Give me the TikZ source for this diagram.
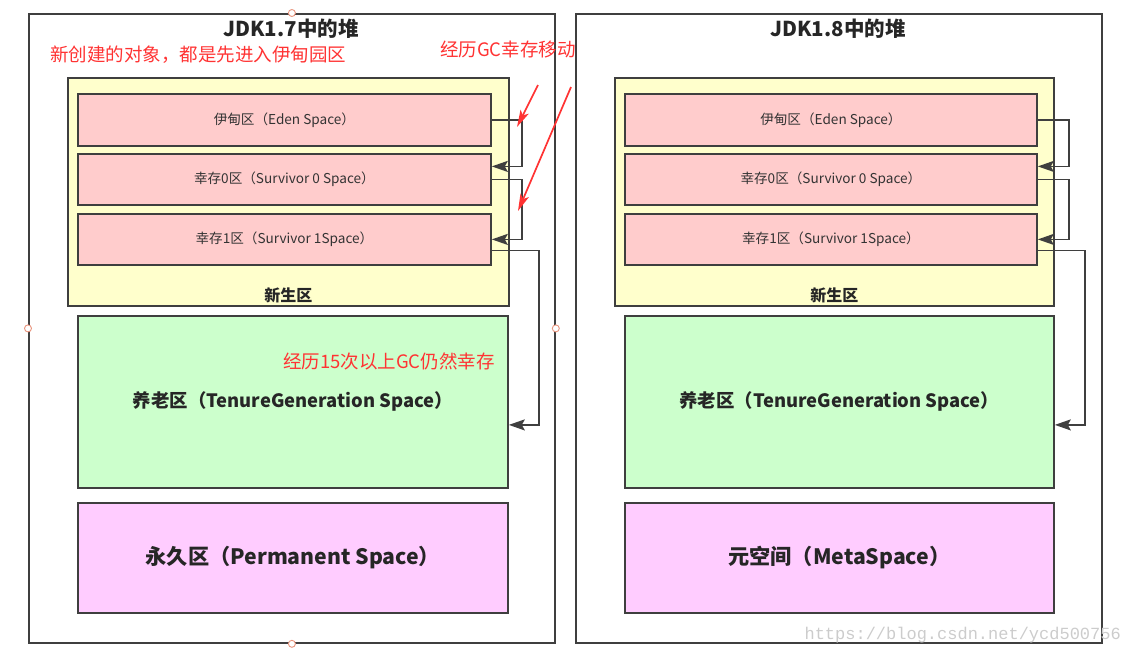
\documentclass[tikz,border=0pt]{standalone}
\usepackage{fontspec}
\setmainfont{Noto Sans CJK SC}
\newfontfamily\wmfont{Liberation Mono}
\usetikzlibrary{arrows.meta, positioning}

\definecolor{edge}{HTML}{3F3F3F}
\definecolor{youngfill}{HTML}{FFFFCC}
\definecolor{edenfill}{HTML}{FFCCCC}
\definecolor{oldfill}{HTML}{CCFFCC}
\definecolor{permfill}{HTML}{FFCCFF}
\definecolor{notered}{HTML}{FF3333}

\begin{document}
\begin{tikzpicture}[
      x=1pt, y=-1pt,
      heap/.style={draw=edge, line width=1.8pt, anchor=north west, inner sep=0pt, minimum width=526, minimum height=629},
      zone/.style={draw=edge, line width=1.8pt, anchor=north west, inner sep=0pt},
      space/.style={zone, fill=edenfill, minimum width=413, font=\fontsize{13.6}{15}\selectfont, text=black!80},
      title/.style={font=\fontsize{20.5}{22}\selectfont\bfseries, text=black!85},
      big/.style={font=\fontsize{18.4}{20}\selectfont\bfseries, text=black!85},
      note/.style={font=\fontsize{18.5}{20}\selectfont, text=notered, inner sep=0pt},
      flow/.style={-{Stealth[length=16pt, width=11pt, inset=3pt]}, draw=edge, line width=1.8pt},
      hint/.style={-{Stealth[length=17pt, width=9pt, inset=4pt]}, draw=notered, line width=1.7pt},
      handle/.style={circle, draw=red!40!brown!60, fill=white, line width=0.9pt, inner sep=0pt, minimum size=7pt}
    ]
    \useasboundingbox (0,0) rectangle (1136,662);

    % JDK 1.7
    \node[heap] (heapA) at (28,13) {};
    \node[title] (titleA) at (291,29) {JDK1.7中的堆};
    \node[zone, fill=youngfill, minimum width=441, minimum height=228] (youngA) at (67,77) {};
    \node[title, font=\fontsize{16}{18}\selectfont\bfseries, anchor=south] (youngtxtA) at ([yshift=0]youngA.south) {新生区};
    \node[space, minimum height=52] (edenA) at (77,93) {伊甸区（Eden Space）};
    \node[space, minimum height=51] (survA0) at (77,153) {幸存0区（Survivor 0 Space）};
    \node[space, minimum height=51] (survA1) at (77,213) {幸存1区（Survivor 1Space）};
    \node[zone, fill=oldfill, minimum width=430, minimum height=172, big] (oldA) at (77,315) {养老区（TenureGeneration Space）};
    \node[zone, fill=permfill, minimum width=430, minimum height=110, big, font=\fontsize{21.2}{23}\selectfont\bfseries] (permA) at (77,502) {永久区（Permanent Space）};

    \node[note, anchor=west] (newobj) at (50,55) {新创建的对象，都是先进入伊甸园区};
    \node[note, anchor=west] (gcmove) at (440,50) {经历GC幸存移动};
    \node[note, anchor=west] (gcold) at (283,361) {经历15次以上GC仍然幸存};

    \draw[flow] (edenA.east) -- ++(30,0) |- ([yshift=13]survA0.east);
    \draw[flow] (survA0.east) -- ++(30,0) |- (survA1.east);
    \draw[flow] ([yshift=-11]survA1.east) -- ++(47,0) |- ([yshift=-23]oldA.east);

    \coordinate (hintA1) at (538,85);
    \coordinate (hintA2) at (571,87);
    \coordinate (tipA1) at (517,127);
    \coordinate (tipA2) at (518,211);
    \draw[hint] (hintA1) -- (tipA1);
    \draw[hint] (hintA2) -- (tipA2);

    \node[handle] (hA1) at (heapA.north) {};
    \node[handle] (hA2) at (heapA.west) {};
    \node[handle] (hA3) at (heapA.east) {};
    \node[handle] (hA4) at (heapA.south) {};

    % JDK 1.8
    \node[heap] (heapB) at (575,13) {};
    \node[title] (titleB) at (838,29) {JDK1.8中的堆};
    \node[zone, fill=youngfill, minimum width=439, minimum height=228] (youngB) at (614,77) {};
    \node[title, font=\fontsize{16}{18}\selectfont\bfseries, anchor=south] (youngtxtB) at ([yshift=0]youngB.south) {新生区};
    \node[space, minimum width=412, minimum height=52] (edenB) at (624,93) {伊甸区（Eden Space）};
    \node[space, minimum width=412, minimum height=51] (survB0) at (624,153) {幸存0区（Survivor 0 Space）};
    \node[space, minimum width=412, minimum height=51] (survB1) at (624,213) {幸存1区（Survivor 1Space）};
    \node[zone, fill=oldfill, minimum width=429, minimum height=172, big] (oldB) at (624,315) {养老区（TenureGeneration Space）};
    \node[zone, fill=permfill, minimum width=429, minimum height=110, big, font=\fontsize{21.2}{23}\selectfont\bfseries] (metaB) at (624,502) {元空间（MetaSpace）};

    \draw[flow] (edenB.east) -- ++(31,0) |- ([yshift=13]survB0.east);
    \draw[flow] (survB0.east) -- ++(31,0) |- (survB1.east);
    \draw[flow] ([yshift=-11]survB1.east) -- ++(47,0) |- ([yshift=-23]oldB.east);

    \node[anchor=east, inner sep=0pt, text=black!20, font=\wmfont\fontsize{17}{18}\selectfont] (mark) at (1121,635) {https://blog.csdn.net/ycd500756};

  \end{tikzpicture}
\end{document}
